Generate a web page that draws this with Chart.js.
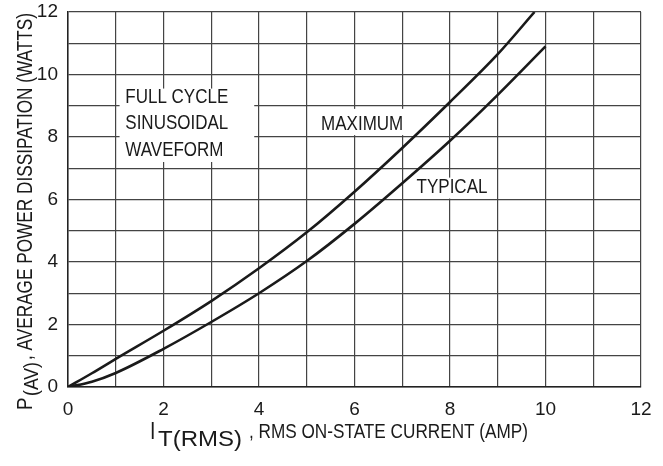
<!DOCTYPE html>
<html>
<head>
<meta charset="utf-8">
<script src="https://cdn.jsdelivr.net/npm/chart.js@4.4.1/dist/chart.umd.min.js"></script>
<style>
  html, body { margin: 0; padding: 0; background: #fff; }
  #wrap { width: 663px; height: 466px; }
</style>
</head>
<body>
<div id="wrap"><canvas id="chart" width="663" height="466"></canvas></div>
<script>
// values
let maxCurrent = [0, 0.5, 1, 2, 3, 4, 5, 6, 7, 8, 9, 9.77]
let maxPower   = [0, 0.44, 0.9, 1.8, 2.75, 3.8, 4.95, 6.25, 7.65, 9.12, 10.65, 12]
let typCurrent = [0, 0.5, 1, 2, 3, 4, 5, 6, 7, 8, 9, 10]
let typPower   = [0, 0.17, 0.45, 1.22, 2.08, 3.0, 4.03, 5.22, 6.52, 7.88, 9.35, 10.9]
let axisTicks  = [0, 2, 4, 6, 8, 10, 12]

let FONT = "'Liberation Sans Narrow', 'Liberation Sans', Arial, sans-serif"
let INK = '#1a1a1a'

function toPoints(xs, ys) {
  return xs.map((x, i) => ({x: x, y: ys[i]}))
}

function tickLabel(v) {
  return axisTicks.includes(v) ? String(v) : ''
}

// draw text squeezed sideways (no narrow face installed)
function drawSqueezed(ctx, text, x, y, size, squeeze) {
  ctx.save()
  ctx.font = size + 'px ' + FONT
  ctx.translate(x, y)
  ctx.scale(squeeze, 1)
  ctx.fillText(text, 0, 0)
  ctx.restore()
}

// draw text fitted between x and x + width
function drawFitted(ctx, text, x, y, size, width) {
  ctx.font = size + 'px ' + FONT
  drawSqueezed(ctx, text, x, y, size, width / ctx.measureText(text).width)
}

// white-backed text notes, placed in data units
let notes = [
  {lines: ['FULL CYCLE', 'SINUSOIDAL', 'WAVEFORM'], x: 1.2, y: 9.1, box: [1.08, 3.9, 9.55, 7.2]},
  {lines: ['MAXIMUM'], x: 5.3, y: 8.22, box: [5.2, 7.1, 8.9, 8.06]},
  {lines: ['TYPICAL'], x: 7.3, y: 6.2, box: [7.2, 8.8, 6.7, 6.03]}
]

let notesPlugin = {
  id: 'notes',
  beforeDatasetsDraw(chart) {
    let ctx = chart.ctx
    let xs = chart.scales.x, ys = chart.scales.y
    ctx.save()
    for (let n of notes) {
      let bx0 = xs.getPixelForValue(n.box[0]), bx1 = xs.getPixelForValue(n.box[1])
      let by0 = ys.getPixelForValue(n.box[2]), by1 = ys.getPixelForValue(n.box[3])
      ctx.fillStyle = '#fff'
      ctx.fillRect(bx0, by0, bx1 - bx0, by1 - by0)
      ctx.fillStyle = INK
      ctx.textBaseline = 'alphabetic'
      let px = xs.getPixelForValue(n.x)
      let py = ys.getPixelForValue(n.y)
      n.lines.forEach((t, i) => drawSqueezed(ctx, t, px, py + i * 26.5, 20, 0.85))
    }
    ctx.restore()
  },
  afterDraw(chart) {
    let ctx = chart.ctx
    ctx.save()
    ctx.fillStyle = INK
    ctx.textBaseline = 'alphabetic'
    // x axis title: I, subscript T(RMS), rest
    drawSqueezed(ctx, 'I', 150, 439, 23, 0.85)
    drawFitted(ctx, 'T(RMS)', 158, 446, 22, 84)
    drawFitted(ctx, ', RMS ON-STATE CURRENT (AMP)', 249, 438, 21, 279)
    // y axis title, reading upwards
    ctx.translate(32, 410)
    ctx.rotate(-Math.PI / 2)
    drawSqueezed(ctx, 'P', 0, 0, 22, 0.85)
    drawFitted(ctx, '(AV)', 14, 6, 21, 34)
    drawFitted(ctx, ', AVERAGE POWER DISSIPATION (WATTS)', 50, 0, 22, 347)
    ctx.restore()
  }
}

let ctx = document.getElementById('chart').getContext('2d')
let powerChart = new Chart(ctx, {
  type: 'scatter',
  data: {
    datasets: [{
      label: 'Maximum',
      data: toPoints(maxCurrent, maxPower),
      showLine: true,
      borderColor: INK,
      borderWidth: 2.6,
      pointRadius: 0,
      cubicInterpolationMode: 'monotone'
    },
    {
      label: 'Typical',
      data: toPoints(typCurrent, typPower),
      showLine: true,
      borderColor: INK,
      borderWidth: 2.6,
      pointRadius: 0,
      cubicInterpolationMode: 'monotone'
    }]
  },
  options: {
    responsive: false,
    animation: false,
    layout: { padding: { top: 12, right: 22, left: 0, bottom: 0 } },
    plugins: { legend: { display: false }, tooltip: { enabled: false } },
    scales: {
      x: {
        type: 'linear', min: 0, max: 12,
        afterFit(scale) { scale.height = 79 },
        border: { color: '#222', width: 1.5 },
        grid: { color: '#444', lineWidth: 1.2, drawTicks: false },
        ticks: {
          stepSize: 1, autoSkip: false, maxRotation: 0, padding: 11,
          color: INK, font: { family: FONT, size: 19 },
          callback: tickLabel
        }
      },
      y: {
        type: 'linear', min: 0, max: 12,
        afterFit(scale) {
          scale.width = 68
          scale.paddingTop = 0
          scale.paddingBottom = 0
        },
        border: { color: '#222', width: 1.5 },
        grid: { color: '#444', lineWidth: 1.2, drawTicks: false },
        ticks: {
          stepSize: 1, autoSkip: false, padding: 10,
          color: INK, font: { family: FONT, size: 19 },
          callback: tickLabel
        }
      }
    }
  },
  plugins: [notesPlugin]
})
</script>
</body>
</html>
